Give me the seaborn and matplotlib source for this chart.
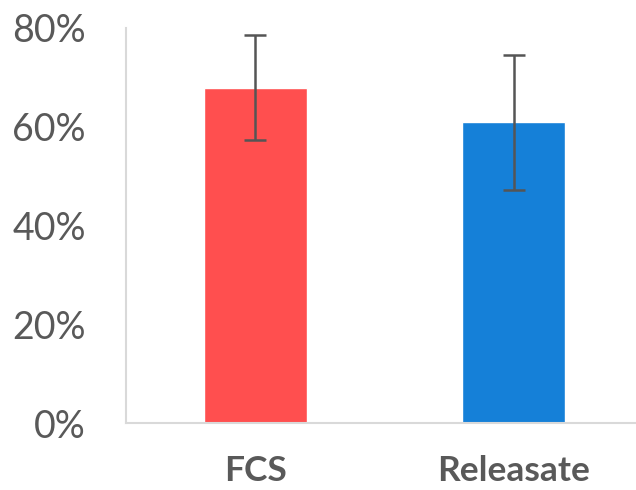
import matplotlib
matplotlib.use("Agg")
import matplotlib.pyplot as plt
import seaborn as sns
import pandas as pd
from matplotlib.ticker import FuncFormatter

categories = ["FCS", "Releasate"]
values = [67.9, 60.9]
errors = [10.6, 13.7]
colors = ["#FF4F4F", "#1580D8"]
y_ticks = [0, 20, 40, 60, 80]

sns.set_theme(style="white")
plt.rcParams['font.family'] = ['Lato', 'DejaVu Sans']

df = pd.DataFrame({"cat": categories, "val": values})

fig = plt.figure(figsize=(6.36, 4.90), dpi=100)
ax = fig.add_axes([126/636, 67/490, 517/636, 395/490])
sns.barplot(data=df, x="cat", y="val", hue="cat", palette=colors, width=0.40,
            ax=ax, legend=False, saturation=1)
ax.errorbar(range(len(categories)), values, yerr=errors, fmt="none",
            ecolor="#555555", elinewidth=1.8, capsize=8, capthick=1.8, zorder=5)

ax.set_xlim(-0.5, 1.5)
ax.set_ylim(0, 80)
ax.set_yticks(y_ticks)
ax.yaxis.set_major_formatter(FuncFormatter(lambda v, p: f"{v:.0f}%"))
ax.set_xlabel("")
ax.set_ylabel("")
for s in ["top", "right"]:
    ax.spines[s].set_visible(False)
for s in ["left", "bottom"]:
    ax.spines[s].set_color("#D9D9D9")
    ax.spines[s].set_linewidth(1.5)
ax.tick_params(axis="y", length=0, pad=29, labelsize=27, labelcolor="#595959")
ax.tick_params(axis="x", length=0, pad=23, labelsize=25.5, labelcolor="#595959")
for lbl in ax.get_xticklabels():
    lbl.set_fontweight("bold")

fig.savefig("out.png", dpi=100)
